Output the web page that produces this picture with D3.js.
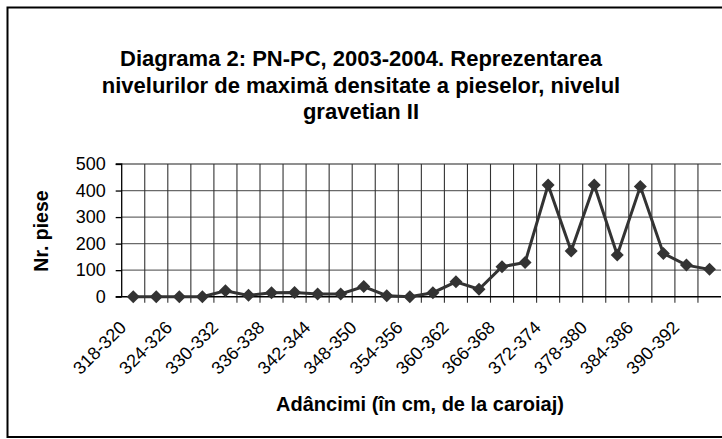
<!DOCTYPE html>
<html>
<head>
<meta charset="utf-8">
<script src="https://cdn.jsdelivr.net/npm/d3@7"></script>
<style>
body{margin:0;padding:0;background:#fff;}
svg{display:block;font-family:Arial,"Liberation Sans",sans-serif;}
</style>
</head>
<body>
<svg id="chart" width="722" height="439"></svg>
<script>
const categories = ["318-320","321-323","324-326","327-329","330-332","333-335","336-338","339-341","342-344","345-347","348-350","351-353","354-356","357-359","360-362","363-365","366-368","369-371","372-374","375-377","378-380","381-383","384-386","387-389","390-392","393-395"];
const values = [0,0,0,0,22,5,15,16,10,10,38,4,0,15,56,28,113,129,421,172,421,157,415,163,119,103];
const yTicks = [0,100,200,300,400,500];
const titleLines = ["Diagrama 2: PN-PC, 2003-2004. Reprezentarea","nivelurilor de maximă densitate a pieselor, nivelul","gravetian II"];
const xTitle = "Adâncimi (în cm, de la caroiaj)";
const yTitle = "Nr. piese";

(function(){
const svg = d3.select("#chart");
const pLeft = 121.7, pRight = 721, pTop = 164, pBottom = 296.7;

svg.append("rect").attr("x",7.5).attr("y",7.5).attr("width",740).attr("height",429.5)
  .attr("fill","#fff").attr("stroke","#000").attr("stroke-width",2);

const x = d3.scaleBand().domain(categories).range([pLeft,pRight]).paddingInner(0).paddingOuter(0);
const y = d3.scaleLinear().domain([0,500]).range([pBottom,pTop]);

// horizontal gridlines
svg.append("g").selectAll("line").data(yTicks.filter(d=>d>0)).join("line")
  .attr("x1",pLeft).attr("x2",pRight).attr("y1",d=>y(d)).attr("y2",d=>y(d))
  .attr("stroke","#6a6a6a").attr("stroke-width",1.3);

// vertical gridlines at band boundaries
const bounds = categories.slice(1).map(c=>x(c));
svg.append("g").selectAll("line").data(bounds).join("line")
  .attr("x1",d=>d).attr("x2",d=>d).attr("y1",pTop).attr("y2",pBottom+6)
  .attr("stroke","#333").attr("stroke-width",1.1);

// y axis
const yAxis = d3.axisLeft(y).tickValues(yTicks).tickSize(6).tickPadding(10);
const gy = svg.append("g").attr("transform",`translate(${pLeft},0)`).call(yAxis);
gy.select(".domain").attr("stroke","#000").attr("stroke-width",1.3).attr("d",`M-6,${pTop}H0V${pBottom}`);
gy.selectAll(".tick line").attr("stroke","#000").attr("stroke-width",1.3);
gy.selectAll(".tick text").attr("font-size",18).attr("fill","#000").attr("font-family","Arial,'Liberation Sans',sans-serif");

// x axis line
svg.append("line").attr("x1",pLeft-6).attr("x2",pRight).attr("y1",pBottom).attr("y2",pBottom)
  .attr("stroke","#000").attr("stroke-width",1.5);

// x labels
svg.append("g").selectAll("text").data(categories.filter((c,i)=>i%2===0)).join("text")
  .attr("transform",d=>`translate(${x(d)+x.bandwidth()/2-6},${pBottom+32}) rotate(-45)`)
  .attr("text-anchor","end").attr("font-size",18).attr("fill","#000")
  .text(d=>d);

// line
const line = d3.line().x((d,i)=>x(categories[i])+x.bandwidth()/2).y(d=>y(d));
svg.append("path").datum(values).attr("d",line).attr("fill","none")
  .attr("stroke","#333").attr("stroke-width",3);

// diamond markers
const s = 6.5;
svg.append("g").selectAll("path").data(values).join("path")
  .attr("transform",(d,i)=>`translate(${x(categories[i])+x.bandwidth()/2},${y(d)})`)
  .attr("d",`M0,${-s}L${s},0L0,${s}L${-s},0Z`).attr("fill","#333");

// title
svg.append("g").selectAll("text").data(titleLines).join("text")
  .attr("x",361).attr("y",(d,i)=>66+i*26.6).attr("text-anchor","middle")
  .attr("font-size",22).attr("font-weight","bold").attr("fill","#000").text(d=>d);

// axis titles
svg.append("text").attr("x",420).attr("y",410.5).attr("text-anchor","middle")
  .attr("font-size",20).attr("font-weight","bold").text(xTitle);
svg.append("text").attr("transform","translate(47.5,231) rotate(-90)").attr("text-anchor","middle")
  .attr("font-size",19.5).attr("font-weight","bold").text(yTitle);
})();
</script>
</body>
</html>
